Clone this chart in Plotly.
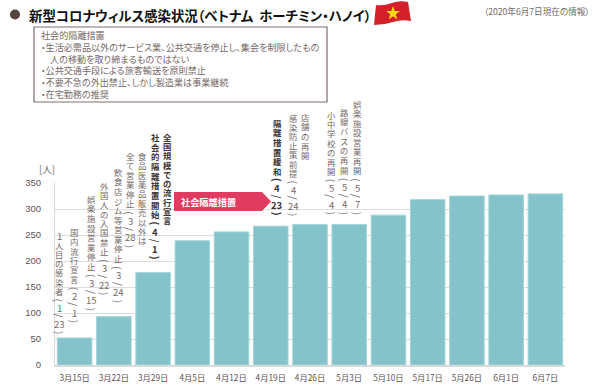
import re
import plotly.graph_objects as go

W, H = 600, 391
L, R, T, B = 55, 565, 183, 365

dates = ["3月15日", "3月22日", "3月29日", "4月5日", "4月12日", "4月19日", "4月26日",
         "5月3日", "5月10日", "5月17日", "5月26日", "6月1日", "6月7日"]
cases = [52, 93, 178, 239, 256, 267, 270, 270, 288, 318, 325, 327, 329]
y_ticks = [0, 50, 100, 150, 200, 250, 300, 350]

title = "新型コロナウィルス感染状況（ベトナム  ホーチミン・ハノイ）"
note = "（2020年6月7日現在の情報）"
box_lines = ["社会的隔離措置",
             "・生活必需品以外のサービス業、公共交通を停止し、集会を制限したもの",
             "　人の移動を取り締まるものではない",
             "・公共交通手段による旅客輸送を原則禁止",
             "・不要不急の外出禁止、しかし製造業は事業継続",
             "・在宅勤務の推奨"]
arrow_label = "社会隔離措置"

event_text = ["1人目の感染者(1/23)", "国内流行宣言(2/1)", "娯楽施設営業停止(3/15)", "外国人の入国禁止(3/22)",
              "飲食店ジム等営業停止(3/24)", "食品医薬品販売以外は", "全て営業停止(3/28)",
              "全国規模での流行宣言", "社会的隔離措置開始(4/1)", "隔離措置緩和(4/23)",
              "店舗の再開", "感染防止策前提(4/24)", "小中学校の再開(5/4)", "路線バスの再開(5/4)",
              "娯楽施設営業再開(5/7)"]
event_x = [59, 74, 91, 104, 118, 142, 130, 167, 155, 277, 305, 293, 331, 344, 357]
event_top = [232, 227, 194, 181, 167, 151, 151, 132, 132, 118, 112, 113, 110, 107, 99]
event_bot = [336, 325, 313, 297, 305, 245, 250, 225, 262, 218, 160, 218, 217, 217, 217]
event_bold = [0, 0, 0, 0, 0, 0, 0, 1, 1, 1, 0, 0, 0, 0, 0]

FONT = "Noto Sans CJK JP"
TXT = "#5f5452"
SOFT = "#756966"


def X(x):
    return (x - L) / (R - L)


def Y(y):
    return (B - y) / (B - T)


fig = go.Figure(go.Bar(x=dates, y=cases, marker=dict(color="#84C3C9", line=dict(color="#A3D5D8", width=1)),
                       width=0.88))

ann = []


def note_px(x, y, text, size, color, anchor="left", bold=False, angle=0):
    ann.append(dict(xref="x domain", yref="y domain", x=X(x), y=Y(y),
                    text=f"<b>{text}</b>" if bold else text,
                    showarrow=False, xanchor=anchor, yanchor="middle", textangle=angle, borderpad=0,
                    font=dict(family=FONT, size=size, color=color)))


for text, x, top, bot, bold in zip(event_text, event_x, event_top, event_bot, event_bold):
    cells = re.findall(r"\d+|.", text)
    weights = [0.88 if (c in "()/" or c.isdigit()) else 1.0 for c in cells]
    unit = (bot - top) / sum(weights)
    col = "#3d3331" if bold else SOFT
    yy = top
    for c, w in zip(cells, weights):
        mid = yy + unit * w / 2
        if c in "()/":
            note_px(x, mid, c, 10, col, "center", bool(bold), 90)
        elif c.isdigit():
            note_px(x, mid, c, 9.5, col, "center", bool(bold))
        else:
            note_px(x, mid, c, 8.4, col, "center", bool(bold))
        yy += unit * w

note_px(28, 14.5, title, 13.4, "#111111", bold=True)
note_px(483, 10.5, note, 8.6, SOFT)
for ln, yy in zip(box_lines, [35, 47, 59, 70, 82, 94]):
    note_px(40, yy, ln, 9.1, SOFT)
note_px(180, 202, arrow_label, 9.2, "#ffffff", bold=True)
note_px(47, 169, "[人]", 9.5, SOFT, "center")


def path(points):
    return "M " + " L ".join(f"{X(a)} {Y(b)}" for a, b in points) + " Z"


def shp(**k):
    return dict(xref="x domain", yref="y domain", **k)


shapes = [
    shp(type="circle", x0=X(10), x1=X(20), y0=Y(9.5), y1=Y(19.5), fillcolor="#55443c", line=dict(width=0)),
    shp(type="rect", x0=X(34), x1=X(327), y0=Y(102), y1=Y(27), fillcolor="#ffffff",
        line=dict(color="#7d6e6b", width=1.2), layer="below"),
    shp(type="path", path=path([(174, 192), (262, 192), (271, 201.5), (262, 211), (174, 211)]),
        fillcolor="#E03B61", line=dict(width=0)),
    shp(type="path",
        path=f"M {X(376)} {Y(5)} Q {X(384)} {Y(6)} {X(392)} {Y(3)} T {X(408)} {Y(2)} L {X(411)} {Y(21)} "
             f"Q {X(402)} {Y(19)} {X(393)} {Y(22)} T {X(374)} {Y(25)} Z",
        fillcolor="#D4202A", line=dict(width=0)),
]
star = [(393, 6), (394.7, 11), (400, 11), (395.7, 14.2), (397.3, 19.5), (393, 16.2),
        (388.7, 19.5), (390.3, 14.2), (386, 11), (391.3, 11)]
shapes.append(shp(type="path", path=path(star), fillcolor="#F5D90E", line=dict(width=0)))

fig.update_layout(
    width=W, height=H, margin=dict(l=L, r=W - R, t=T, b=H - B, pad=0, autoexpand=False),
    paper_bgcolor="white", plot_bgcolor="white", showlegend=False,
    font=dict(family=FONT, color=TXT), annotations=ann, shapes=shapes,
    xaxis=dict(type="category", categoryarray=dates, range=[-0.5, 12.5], tickfont=dict(size=8.3, color=TXT),
               showgrid=False, ticks="", showline=True, linecolor="#d9d9d9", linewidth=1.5, ticklabelstandoff=4,
               automargin=False),
    yaxis=dict(range=[0, 350], tickvals=y_ticks, tickfont=dict(size=9.5, color=TXT, family="Liberation Sans"),
               gridcolor="#dddddd", gridwidth=1.2, zeroline=False, showline=True, linecolor="#d9d9d9",
               linewidth=1.2, ticks="", ticklabelstandoff=11, automargin=False),
)
fig.write_html("out.html", config={"displayModeBar": False},
               post_script="""document.body.style.margin='0';document.documentElement.style.overflow='hidden';
document.querySelectorAll('.annotation-text').forEach(function(t){
  if(t.textContent.length>3){
    var w=t.getComputedTextLength(), x=parseFloat(t.getAttribute('x'));
    t.setAttribute('text-anchor','start');
    t.setAttribute('x', x-w/2);
    t.style.textAnchor='start';
    t.style.fontFeatureSettings='"palt"';
  }
});""")
